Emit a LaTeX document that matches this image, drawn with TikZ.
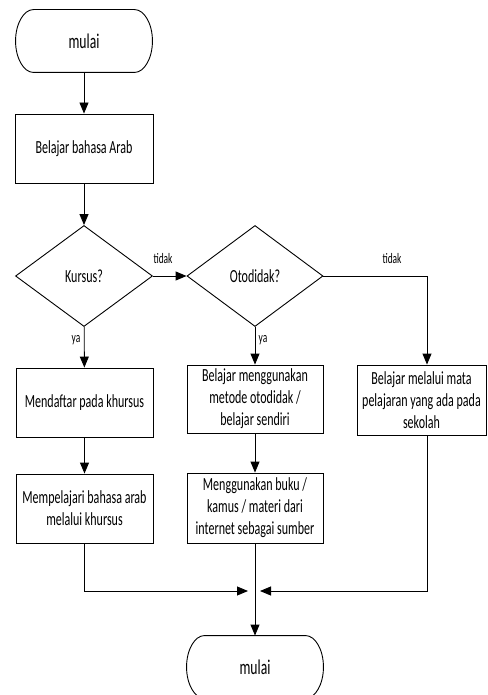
\documentclass[tikz,border=0pt]{standalone}
\usepackage{fontspec}
\setmainfont{Carlito}[FakeStretch=0.65]
\usetikzlibrary{arrows.meta,shapes.geometric,calc}
\begin{document}
\begin{tikzpicture}[x=1pt,y=-1pt,line width=0.9pt,
  txt/.style={font=\fontsize{18.5}{22}\selectfont},
  procbox/.style={draw,rectangle,inner sep=0pt,align=center,txt},
  decision/.style={draw,diamond,inner sep=0pt,minimum width=137pt,minimum height=101pt,txt},
  termtext/.style={inner sep=0pt,minimum width=136pt,minimum height=62pt,font=\fontsize{21}{24}\selectfont},
  lbl/.style={font=\fontsize{14.5}{16}\selectfont,inner sep=0pt},
  flow/.style={-{Triangle[length=11pt,width=9pt]}}]
\useasboundingbox (0,0) rectangle (487,695);

% terminal outline: straight top and bottom, elliptical ends (rx 18, ry 31)
\newcommand{\termshape}[1]{%
  \draw ($(#1.north west)+(18,0)$) -- ($(#1.north east)+(-18,0)$)
    .. controls ($(#1.north east)+(-8.06,0)$) and ($(#1.east)+(0,-17.12)$) .. (#1.east)
    .. controls ($(#1.east)+(0,17.12)$) and ($(#1.south east)+(-8.06,0)$) .. ($(#1.south east)+(-18,0)$)
    -- ($(#1.south west)+(18,0)$)
    .. controls ($(#1.south west)+(8.06,0)$) and ($(#1.west)+(0,17.12)$) .. (#1.west)
    .. controls ($(#1.west)+(0,-17.12)$) and ($(#1.north west)+(8.06,0)$) .. cycle;}

% nodes
\node[termtext] (start) at (84,41) {mulai};
\termshape{start}
\node[procbox,minimum width=138pt,minimum height=69pt] (arab) at (84,148.5) {Belajar bahasa Arab};
\node[decision] (kursus) at (84,276) {Kursus?};
\node[decision,minimum width=136pt] (otodidak) at (255,276) {Otodidak?};
\node[procbox,minimum width=137pt,minimum height=69pt] (daftar) at (84.5,402.5) {Mendaftar pada khursus};
\node[procbox,minimum width=137pt,minimum height=69pt] (pelajari) at (84.5,508.5) {Mempelajari bahasa arab\\melalui khursus};
\node[procbox,minimum width=136pt,minimum height=68pt] (metode) at (255,399) {Belajar menggunakan\\metode otodidak /\\belajar sendiri};
\node[procbox,minimum width=136pt,minimum height=70pt] (buku) at (255,508) {Menggunakan buku /\\kamus / materi dari\\internet sebagai sumber};
\node[procbox,minimum width=129pt,minimum height=70pt] (sekolah) at (421.5,400) {Belajar melalui mata\\pelajaran yang ada pada\\sekolah};
\node[termtext] (finish) at (255,667) {mulai};
\termshape{finish}

% routing points
\coordinate (rc) at (427,0);
\coordinate (mg) at (255,591);

% connectors
\draw[flow] (start) -- (arab);
\draw[flow] (arab) -- (kursus);
\draw[flow] (kursus) -- (otodidak);
\draw[flow] (kursus) -- (daftar);
\draw[flow] (daftar) -- (pelajari);
\draw[flow] (otodidak) -- (metode);
\draw[flow] (metode) -- (buku);
\draw[flow] (otodidak.east) -| (rc |- sekolah.north);
\draw[flow] (pelajari.south -| kursus) |- ($(mg)+(-7,0)$);
\draw[flow] (sekolah.south -| rc) |- ($(mg)+(5,0)$);
\draw[flow] (buku) -- (finish);

% branch labels
\node[lbl] (t1) at (163,259) {tidak};
\node[lbl] (t2) at (392,259) {tidak};
\node[lbl] (y1) at (76,340) {ya};
\node[lbl] (y2) at (263,340) {ya};
\end{tikzpicture}
\end{document}
